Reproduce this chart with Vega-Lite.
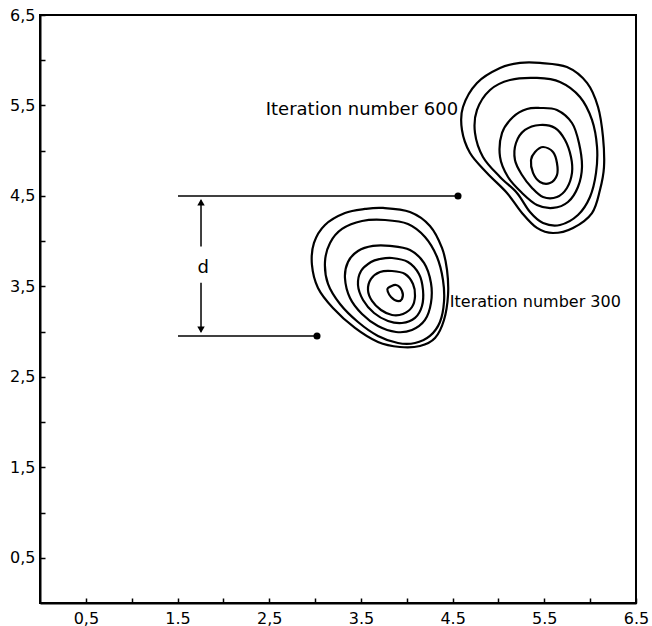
{
  "$schema": "https://vega.github.io/schema/vega-lite/v6.json",
  "width": 596,
  "height": 588,
  "autosize": {"type": "none"},
  "padding": {"left": 40, "top": 15, "right": 16, "bottom": 23},
  "background": "white",
  "config": {
    "view": {"stroke": "black", "strokeWidth": 2},
    "font": "DejaVu Sans"
  },
  "datasets": {
    "contours": [
      {"id": "L1", "s": 1, "x": 3.741, "y": 4.367}, {"id": "L1", "s": 2, "x": 4.035, "y": 4.322}, {"id": "L1", "s": 3, "x": 4.253, "y": 4.168}, {"id": "L1", "s": 4, "x": 4.384, "y": 3.925}, {"id": "L1", "s": 5, "x": 4.439, "y": 3.681}, {"id": "L1", "s": 6, "x": 4.45, "y": 3.405}, {"id": "L1", "s": 7, "x": 4.406, "y": 3.129}, {"id": "L1", "s": 8, "x": 4.308, "y": 2.93}, {"id": "L1", "s": 9, "x": 4.144, "y": 2.841}, {"id": "L1", "s": 10, "x": 3.926, "y": 2.83}, {"id": "L1", "s": 11, "x": 3.686, "y": 2.885}, {"id": "L1", "s": 12, "x": 3.435, "y": 3.04}, {"id": "L1", "s": 13, "x": 3.195, "y": 3.261}, {"id": "L1", "s": 14, "x": 3.032, "y": 3.482}, {"id": "L1", "s": 15, "x": 2.966, "y": 3.737}, {"id": "L1", "s": 16, "x": 2.988, "y": 3.98}, {"id": "L1", "s": 17, "x": 3.108, "y": 4.179}, {"id": "L1", "s": 18, "x": 3.326, "y": 4.311}, {"id": "L1", "s": 19, "x": 3.544, "y": 4.356},
      {"id": "L2", "s": 1, "x": 3.763, "y": 4.234}, {"id": "L2", "s": 2, "x": 4.013, "y": 4.19}, {"id": "L2", "s": 3, "x": 4.199, "y": 4.046}, {"id": "L2", "s": 4, "x": 4.33, "y": 3.825}, {"id": "L2", "s": 5, "x": 4.395, "y": 3.571}, {"id": "L2", "s": 6, "x": 4.406, "y": 3.328}, {"id": "L2", "s": 7, "x": 4.362, "y": 3.106}, {"id": "L2", "s": 8, "x": 4.253, "y": 2.952}, {"id": "L2", "s": 9, "x": 4.09, "y": 2.874}, {"id": "L2", "s": 10, "x": 3.904, "y": 2.874}, {"id": "L2", "s": 11, "x": 3.686, "y": 2.952}, {"id": "L2", "s": 12, "x": 3.468, "y": 3.106}, {"id": "L2", "s": 13, "x": 3.272, "y": 3.305}, {"id": "L2", "s": 14, "x": 3.141, "y": 3.527}, {"id": "L2", "s": 15, "x": 3.108, "y": 3.77}, {"id": "L2", "s": 16, "x": 3.163, "y": 3.98}, {"id": "L2", "s": 17, "x": 3.294, "y": 4.135}, {"id": "L2", "s": 18, "x": 3.512, "y": 4.223},
      {"id": "L3", "s": 1, "x": 3.817, "y": 3.947}, {"id": "L3", "s": 2, "x": 4.035, "y": 3.902}, {"id": "L3", "s": 3, "x": 4.188, "y": 3.759}, {"id": "L3", "s": 4, "x": 4.264, "y": 3.538}, {"id": "L3", "s": 5, "x": 4.264, "y": 3.317}, {"id": "L3", "s": 6, "x": 4.199, "y": 3.129}, {"id": "L3", "s": 7, "x": 4.057, "y": 3.018}, {"id": "L3", "s": 8, "x": 3.883, "y": 2.996}, {"id": "L3", "s": 9, "x": 3.686, "y": 3.062}, {"id": "L3", "s": 10, "x": 3.512, "y": 3.195}, {"id": "L3", "s": 11, "x": 3.381, "y": 3.372}, {"id": "L3", "s": 12, "x": 3.326, "y": 3.593}, {"id": "L3", "s": 13, "x": 3.359, "y": 3.77}, {"id": "L3", "s": 14, "x": 3.468, "y": 3.891}, {"id": "L3", "s": 15, "x": 3.632, "y": 3.947},
      {"id": "L4", "s": 1, "x": 3.839, "y": 3.814}, {"id": "L4", "s": 2, "x": 4.013, "y": 3.77}, {"id": "L4", "s": 3, "x": 4.133, "y": 3.637}, {"id": "L4", "s": 4, "x": 4.177, "y": 3.46}, {"id": "L4", "s": 5, "x": 4.166, "y": 3.283}, {"id": "L4", "s": 6, "x": 4.09, "y": 3.151}, {"id": "L4", "s": 7, "x": 3.948, "y": 3.095}, {"id": "L4", "s": 8, "x": 3.795, "y": 3.118}, {"id": "L4", "s": 9, "x": 3.643, "y": 3.206}, {"id": "L4", "s": 10, "x": 3.523, "y": 3.35}, {"id": "L4", "s": 11, "x": 3.468, "y": 3.515}, {"id": "L4", "s": 12, "x": 3.501, "y": 3.67}, {"id": "L4", "s": 13, "x": 3.61, "y": 3.77}, {"id": "L4", "s": 14, "x": 3.708, "y": 3.803},
      {"id": "L5", "s": 1, "x": 3.839, "y": 3.67}, {"id": "L5", "s": 2, "x": 3.981, "y": 3.637}, {"id": "L5", "s": 3, "x": 4.068, "y": 3.527}, {"id": "L5", "s": 4, "x": 4.09, "y": 3.394}, {"id": "L5", "s": 5, "x": 4.057, "y": 3.272}, {"id": "L5", "s": 6, "x": 3.959, "y": 3.195}, {"id": "L5", "s": 7, "x": 3.839, "y": 3.184}, {"id": "L5", "s": 8, "x": 3.719, "y": 3.239}, {"id": "L5", "s": 9, "x": 3.621, "y": 3.339}, {"id": "L5", "s": 10, "x": 3.577, "y": 3.46}, {"id": "L5", "s": 11, "x": 3.61, "y": 3.582}, {"id": "L5", "s": 12, "x": 3.708, "y": 3.659},
      {"id": "L6", "s": 1, "x": 3.795, "y": 3.482}, {"id": "L6", "s": 2, "x": 3.883, "y": 3.515}, {"id": "L6", "s": 3, "x": 3.948, "y": 3.449}, {"id": "L6", "s": 4, "x": 3.948, "y": 3.361}, {"id": "L6", "s": 5, "x": 3.893, "y": 3.339}, {"id": "L6", "s": 6, "x": 3.828, "y": 3.383}, {"id": "L6", "s": 7, "x": 3.795, "y": 3.438},
      {"id": "U1", "s": 1, "x": 5.453, "y": 5.97}, {"id": "U1", "s": 2, "x": 5.747, "y": 5.925}, {"id": "U1", "s": 3, "x": 5.966, "y": 5.749}, {"id": "U1", "s": 4, "x": 6.086, "y": 5.483}, {"id": "U1", "s": 5, "x": 6.14, "y": 5.152}, {"id": "U1", "s": 6, "x": 6.151, "y": 4.82}, {"id": "U1", "s": 7, "x": 6.107, "y": 4.566}, {"id": "U1", "s": 8, "x": 6.02, "y": 4.311}, {"id": "U1", "s": 9, "x": 5.813, "y": 4.146}, {"id": "U1", "s": 10, "x": 5.595, "y": 4.09}, {"id": "U1", "s": 11, "x": 5.42, "y": 4.146}, {"id": "U1", "s": 12, "x": 5.257, "y": 4.311}, {"id": "U1", "s": 13, "x": 5.093, "y": 4.533}, {"id": "U1", "s": 14, "x": 4.875, "y": 4.754}, {"id": "U1", "s": 15, "x": 4.69, "y": 4.975}, {"id": "U1", "s": 16, "x": 4.602, "y": 5.229}, {"id": "U1", "s": 17, "x": 4.613, "y": 5.483}, {"id": "U1", "s": 18, "x": 4.766, "y": 5.749}, {"id": "U1", "s": 19, "x": 5.017, "y": 5.914}, {"id": "U1", "s": 20, "x": 5.235, "y": 5.97},
      {"id": "U2", "s": 1, "x": 5.42, "y": 5.804}, {"id": "U2", "s": 2, "x": 5.671, "y": 5.76}, {"id": "U2", "s": 3, "x": 5.889, "y": 5.594}, {"id": "U2", "s": 4, "x": 6.02, "y": 5.34}, {"id": "U2", "s": 5, "x": 6.075, "y": 5.041}, {"id": "U2", "s": 6, "x": 6.064, "y": 4.754}, {"id": "U2", "s": 7, "x": 5.998, "y": 4.488}, {"id": "U2", "s": 8, "x": 5.867, "y": 4.289}, {"id": "U2", "s": 9, "x": 5.671, "y": 4.179}, {"id": "U2", "s": 10, "x": 5.486, "y": 4.201}, {"id": "U2", "s": 11, "x": 5.344, "y": 4.322}, {"id": "U2", "s": 12, "x": 5.202, "y": 4.533}, {"id": "U2", "s": 13, "x": 5.017, "y": 4.709}, {"id": "U2", "s": 14, "x": 4.831, "y": 4.931}, {"id": "U2", "s": 15, "x": 4.744, "y": 5.196}, {"id": "U2", "s": 16, "x": 4.766, "y": 5.45}, {"id": "U2", "s": 17, "x": 4.908, "y": 5.671}, {"id": "U2", "s": 18, "x": 5.126, "y": 5.782},
      {"id": "U3", "s": 1, "x": 5.453, "y": 5.472}, {"id": "U3", "s": 2, "x": 5.638, "y": 5.45}, {"id": "U3", "s": 3, "x": 5.802, "y": 5.306}, {"id": "U3", "s": 4, "x": 5.878, "y": 5.085}, {"id": "U3", "s": 5, "x": 5.911, "y": 4.82}, {"id": "U3", "s": 6, "x": 5.867, "y": 4.599}, {"id": "U3", "s": 7, "x": 5.758, "y": 4.433}, {"id": "U3", "s": 8, "x": 5.595, "y": 4.367}, {"id": "U3", "s": 9, "x": 5.42, "y": 4.4}, {"id": "U3", "s": 10, "x": 5.257, "y": 4.533}, {"id": "U3", "s": 11, "x": 5.104, "y": 4.709}, {"id": "U3", "s": 12, "x": 5.017, "y": 4.931}, {"id": "U3", "s": 13, "x": 5.039, "y": 5.196}, {"id": "U3", "s": 14, "x": 5.159, "y": 5.373}, {"id": "U3", "s": 15, "x": 5.311, "y": 5.461},
      {"id": "U4", "s": 1, "x": 5.453, "y": 5.284}, {"id": "U4", "s": 2, "x": 5.617, "y": 5.251}, {"id": "U4", "s": 3, "x": 5.726, "y": 5.118}, {"id": "U4", "s": 4, "x": 5.791, "y": 4.931}, {"id": "U4", "s": 5, "x": 5.802, "y": 4.754}, {"id": "U4", "s": 6, "x": 5.747, "y": 4.588}, {"id": "U4", "s": 7, "x": 5.638, "y": 4.488}, {"id": "U4", "s": 8, "x": 5.486, "y": 4.488}, {"id": "U4", "s": 9, "x": 5.366, "y": 4.588}, {"id": "U4", "s": 10, "x": 5.257, "y": 4.731}, {"id": "U4", "s": 11, "x": 5.18, "y": 4.897}, {"id": "U4", "s": 12, "x": 5.191, "y": 5.085}, {"id": "U4", "s": 13, "x": 5.289, "y": 5.229},
      {"id": "U5", "s": 1, "x": 5.486, "y": 5.041}, {"id": "U5", "s": 2, "x": 5.595, "y": 4.986}, {"id": "U5", "s": 3, "x": 5.638, "y": 4.864}, {"id": "U5", "s": 4, "x": 5.638, "y": 4.731}, {"id": "U5", "s": 5, "x": 5.562, "y": 4.643}, {"id": "U5", "s": 6, "x": 5.453, "y": 4.654}, {"id": "U5", "s": 7, "x": 5.377, "y": 4.754}, {"id": "U5", "s": 8, "x": 5.355, "y": 4.897}, {"id": "U5", "s": 9, "x": 5.399, "y": 4.986}
    ],
    "segments": [
      {"x": 1.505, "y": 4.5, "x2": 4.55, "y2": 4.5},
      {"x": 1.505, "y": 2.952, "x2": 3.0, "y2": 2.952},
      {"x": 1.756, "y": 4.45, "x2": 1.756, "y2": 3.94},
      {"x": 1.756, "y": 3.54, "x2": 1.756, "y2": 3.0}
    ],
    "dots": [
      {"x": 4.559, "y": 4.5},
      {"x": 3.021, "y": 2.952}
    ],
    "arrows": [
      {"x": 1.756, "y": 4.43, "shape": "triangle-up"},
      {"x": 1.756, "y": 3.02, "shape": "triangle-down"}
    ],
    "labels": [
      {"x": 4.56, "y": 5.45, "text": "Iteration number 600", "align": "right"},
      {"x": 4.47, "y": 3.33, "text": "Iteration number 300", "align": "left"},
      {"x": 1.78, "y": 3.7, "text": "d", "align": "center"}
    ]
  },
  "layer": [
    {
      "data": {"name": "contours"},
      "mark": {"type": "line", "interpolate": "cardinal-closed", "color": "black", "strokeWidth": 2.2},
      "encoding": {
        "x": {
          "field": "x", "type": "quantitative",
          "scale": {"domain": [0, 6.5], "nice": false, "zero": false},
          "axis": {
            "title": null, "grid": false,
            "values": [0.5, 1, 1.5, 2, 2.5, 3, 3.5, 4, 4.5, 5, 5.5, 6, 6.5],
            "labelExpr": "datum.value == 0.5 ? '0,5' : datum.value == 1.5 ? '1.5' : datum.value == 2.5 ? '2,5' : datum.value == 3.5 ? '3.5' : datum.value == 4.5 ? '4.5' : datum.value == 5.5 ? '5.5' : datum.value == 6.5 ? '6.5' : ''",
            "tickSize": -5, "tickColor": "black", "tickWidth": 1.5,
            "labelPadding": 12, "labelFontSize": 16, "labelColor": "black", "labelFont": "DejaVu Sans",
            "domainColor": "black", "domainWidth": 2, "labelFlush": false, "labelOverlap": false
          }
        },
        "y": {
          "field": "y", "type": "quantitative",
          "scale": {"domain": [0, 6.5], "nice": false, "zero": false},
          "axis": {
            "title": null, "grid": false,
            "values": [0.5, 1, 1.5, 2, 2.5, 3, 3.5, 4, 4.5, 5, 5.5, 6, 6.5],
            "labelExpr": "datum.value % 1 == 0 ? '' : replace(format(datum.value, '.1f'), '.', ',')",
            "tickSize": -5, "tickColor": "black", "tickWidth": 1.5,
            "labelPadding": 10, "labelFontSize": 16, "labelColor": "black", "labelFont": "DejaVu Sans",
            "domainColor": "black", "domainWidth": 2, "labelFlush": false, "labelOverlap": false
          }
        },
        "detail": {"field": "id"},
        "order": {"field": "s", "type": "quantitative"}
      }
    },
    {
      "data": {"name": "segments"},
      "mark": {"type": "rule", "color": "black", "strokeWidth": 1.5},
      "encoding": {
        "x": {"field": "x", "type": "quantitative"},
        "y": {"field": "y", "type": "quantitative"},
        "x2": {"field": "x2"},
        "y2": {"field": "y2"}
      }
    },
    {
      "data": {"name": "dots"},
      "mark": {"type": "point", "filled": true, "color": "black", "size": 50, "opacity": 1},
      "encoding": {
        "x": {"field": "x", "type": "quantitative"},
        "y": {"field": "y", "type": "quantitative"}
      }
    },
    {
      "data": {"name": "arrows"},
      "mark": {"type": "point", "filled": true, "color": "black", "size": 55, "opacity": 1},
      "encoding": {
        "x": {"field": "x", "type": "quantitative"},
        "y": {"field": "y", "type": "quantitative"},
        "shape": {"field": "shape", "type": "nominal", "scale": null, "legend": null}
      }
    },
    {
      "data": {"name": "labels"},
      "transform": [{"filter": "datum.align == 'right'"}],
      "mark": {"type": "text", "align": "right", "baseline": "middle", "fontSize": 18, "color": "black", "font": "DejaVu Sans"},
      "encoding": {
        "x": {"field": "x", "type": "quantitative"},
        "y": {"field": "y", "type": "quantitative"},
        "text": {"field": "text"}
      }
    },
    {
      "data": {"name": "labels"},
      "transform": [{"filter": "datum.align == 'left'"}],
      "mark": {"type": "text", "align": "left", "baseline": "middle", "fontSize": 16, "color": "black", "font": "DejaVu Sans"},
      "encoding": {
        "x": {"field": "x", "type": "quantitative"},
        "y": {"field": "y", "type": "quantitative"},
        "text": {"field": "text"}
      }
    },
    {
      "data": {"name": "labels"},
      "transform": [{"filter": "datum.align == 'center'"}],
      "mark": {"type": "text", "align": "center", "baseline": "middle", "fontSize": 18, "color": "black", "font": "DejaVu Sans"},
      "encoding": {
        "x": {"field": "x", "type": "quantitative"},
        "y": {"field": "y", "type": "quantitative"},
        "text": {"field": "text"}
      }
    }
  ]
}
